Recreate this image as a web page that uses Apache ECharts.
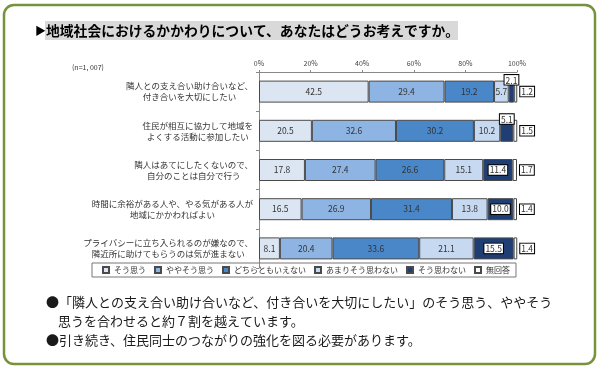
<!DOCTYPE html>
<html><head><meta charset="utf-8">
<script src="https://cdn.jsdelivr.net/npm/echarts@6/dist/echarts.min.js"></script>
<style>html,body{margin:0;padding:0;background:#fff}#c{width:600px;height:371px}</style>
</head><body><div id="c"></div>
<script>
const categories = [
  ['隣人との支え合い助け合いなど、', '付き合いを大切にしたい'],
  ['住民が相互に協力して地域を', 'よくする活動に参加したい'],
  ['隣人はあてにしたくないので、', '自分のことは自分で行う'],
  ['時間に余裕がある人や、やる気がある人が', '地域にかかわればよい'],
  ['プライバシーに立ち入られるのが嫌なので、', '隣近所に助けてもらうのは気が進まない']
];
const seriesNames = ['そう思う', 'ややそう思う', 'どちらともいえない', 'あまりそう思わない', 'そう思わない', '無回答'];
const soOmou      = [42.5, 20.5, 17.8, 16.5, 8.1];
const yayaSoOmou  = [29.4, 32.6, 27.4, 26.9, 20.4];
const dochiramo   = [19.2, 30.2, 26.6, 31.4, 33.6];
const amari       = [5.7, 10.2, 15.1, 13.8, 21.1];
const soOmowanai  = [2.1, 5.1, 11.4, 10.0, 15.5];
const mukaito     = [1.2, 1.5, 1.7, 1.4, 1.4];
const xTicks = [0, 20, 40, 60, 80, 100];
const sampleNote = '(n=1, 007)';
const titleText = '地域社会におけるかかわりについて、あなたはどうお考えですか。';
const note1a = '●「隣人との支え合い助け合いなど、付き合いを大切にしたい」のそう思う、ややそう';
const note1b = '思うを合わせると約７割を越えています。';
const note2 = '●引き続き、住民同士のつながりの強化を図る必要があります。';

const values = [soOmou, yayaSoOmou, dochiramo, amari, soOmowanai, mukaito];
const colors = ['#dce6f2', '#8db4e2', '#4a87c9', '#c6d9f1', '#1f3f74', '#ffffff'];
const FONT = '"Noto Sans CJK JP", sans-serif';

const boxed = {backgroundColor: '#fff', borderColor: '#000', borderWidth: 1, padding: [1, 1, 0, 1], color: '#333'};
function labelFor(si, ri) {
  if (si === 4) {
    if (ri < 2) return Object.assign({position: 'top', distance: -4}, boxed);
    return Object.assign({position: 'inside'}, boxed);
  }
  if (si === 5) return Object.assign({position: 'right', distance: 3}, boxed);
  return {};
}

const series = values.map((arr, si) => ({
  name: seriesNames[si],
  type: 'bar',
  stack: 'all',
  barWidth: 22,
  clip: false,
  itemStyle: {color: colors[si], borderColor: '#4a4a4a', borderWidth: 1},
  label: {show: true, position: 'inside', color: '#333', fontSize: 8.5, fontFamily: FONT,
    formatter: p => p.value.toFixed(1)},
  emphasis: {disabled: true},
  data: arr.map((v, ri) => ({value: v, label: labelFor(si, ri)}))
}));

const chart = echarts.init(document.getElementById('c'), null, {renderer: 'canvas'});
chart.setOption({
  animation: false,
  textStyle: {fontFamily: FONT},
  grid: {left: 259, right: 83, top: 72, bottom: 103},
  xAxis: {
    type: 'value', position: 'top', min: 0, max: 100, interval: 20,
    axisLabel: {formatter: v => xTicks.includes(v) ? v + '%' : '', fontSize: 7, color: '#444', margin: 5},
    axisLine: {show: true, lineStyle: {color: '#888'}},
    axisTick: {show: true, length: 2, lineStyle: {color: '#888'}},
    splitLine: {show: false}
  },
  yAxis: {
    type: 'category', inverse: true,
    data: categories.map(c => c.join('\n')),
    axisLine: {show: true, lineStyle: {color: '#888'}},
    axisTick: {show: true, length: 3, lineStyle: {color: '#888'}},
    axisLabel: {
      margin: 6, color: '#333', fontSize: 8.5, lineHeight: 11,
      formatter: v => v.split('\n').map(s => '{c|' + s + '}').join('\n'),
      rich: {c: {align: 'center', fontSize: 8.5, lineHeight: 11, color: '#333'}}
    }
  },
  legend: {
    data: seriesNames, left: 92, top: 263, icon: 'rect',
    itemWidth: 6, itemHeight: 6, itemGap: 8, itemTextGap: 3,
    padding: [3, 6, 3, 10],
    borderColor: '#777', borderWidth: 1,
    textStyle: {fontSize: 8, color: '#333'}
  },
  graphic: [
    {type: 'rect', shape: {x: 4, y: 5, width: 591, height: 359, r: 10}, style: {fill: 'none', stroke: '#76923c', lineWidth: 2.5}, silent: true},
    {type: 'rect', shape: {x: 45, y: 21, width: 413, height: 19}, style: {fill: '#d9d9d9'}, silent: true},
    {type: 'text', x: 35, y: 31, style: {text: '▶', fontSize: 11, fill: '#000', verticalAlign: 'middle', fontFamily: FONT}},
    {type: 'text', x: 46, y: 31, style: {text: titleText, fontSize: 13.8, fontWeight: 'bold', fill: '#000', verticalAlign: 'middle', fontFamily: FONT}},
    {type: 'text', x: 72, y: 67, style: {text: sampleNote, fontSize: 7, fill: '#333', verticalAlign: 'middle', fontFamily: FONT}},
    {type: 'text', x: 46, y: 302, style: {text: note1a, fontSize: 13, fill: '#1a1a1a', verticalAlign: 'middle', fontFamily: FONT}},
    {type: 'text', x: 58, y: 321, style: {text: note1b, fontSize: 13, fill: '#1a1a1a', verticalAlign: 'middle', fontFamily: FONT}},
    {type: 'text', x: 46, y: 340, style: {text: note2, fontSize: 13, fill: '#1a1a1a', verticalAlign: 'middle', fontFamily: FONT}}
  ],
  series: series
});
</script></body></html>
